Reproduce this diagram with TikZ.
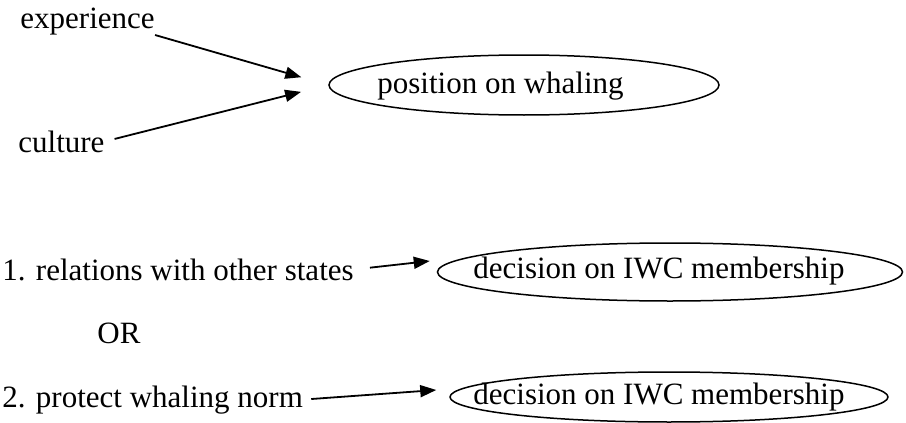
\documentclass[tikz,border=0pt]{standalone}
\usepackage{fontspec}
\setmainfont{Liberation Serif}
\usetikzlibrary{shapes.geometric,arrows.meta}
\tikzset{
    % plain text
    factor/.style={
        inner sep=0pt,
        anchor=base west,
        font=\fontsize{15.5}{18}\selectfont,
    },
    % outcome
    outcome/.style={
        draw=black,
        ellipse,
        line width=0.75pt,
        inner sep=0pt,
    },
    % influence
    link/.style={
        -{Triangle[length=8pt,width=6pt]},
        line width=0.9pt,
    },
}
\begin{document}
\begin{tikzpicture}[x=0.5pt,y=-0.5pt]
    \useasboundingbox (0,0) rectangle (906,423);
%POSITION_BEGIN%
    \node[factor] (exp) at (20,28) {experience};
    \node[factor] (cult) at (18,152) {culture};
    \node[outcome,minimum width=195pt,minimum height=30pt] (pos) at (524,85) {};
    \node[factor] at (377,93) {position on whaling};
    % Draw influences
    \draw[link,shorten >=14pt] (exp.south east) -- (pos.west);
    \draw[link,shorten <=5pt,shorten >=14pt] (cult.east) -- (pos.west);
%POSITION_END%

%DECISION_BEGIN%
    \node[factor] (rel) at (2,280) {1. relations with other states};
    \node[outcome,minimum width=232.5pt,minimum height=29pt] (memb1) at (670,272) {};
    \node[factor] at (473,278) {decision on IWC membership};
    \draw[link,shorten <=8pt] (rel.east) -- ([shift={(-7,-11)}]memb1.west);

    \node[factor] (alt) at (97,343) {OR};

    \node[factor] (prot) at (2,407) {2. protect whaling norm};
    \node[outcome,minimum width=219pt,minimum height=25pt] (memb2) at (669,397) {};
    \node[factor] at (473,404) {decision on IWC membership};
    \draw[link,shorten <=4pt] (prot.east) -- ([shift={(-13,-7)}]memb2.west);
%DECISION_END%
\end{tikzpicture}
\end{document}
